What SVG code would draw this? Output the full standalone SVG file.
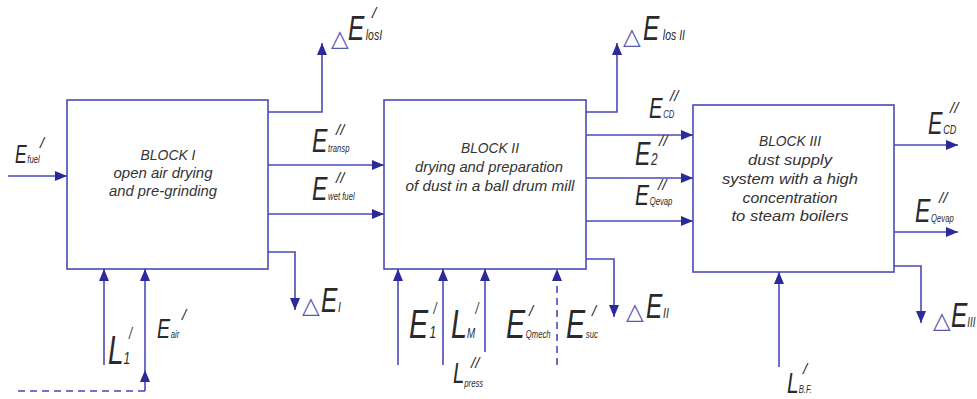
<svg xmlns="http://www.w3.org/2000/svg" width="977" height="399" viewBox="0 0 977 399">
<style>
.box{fill:#fff;stroke:#4a4ab8;stroke-width:1.6}
.ln{fill:none;stroke:#4a4ab8;stroke-width:1.6}
.dash{stroke-dasharray:7 5}
text{font-family:"Liberation Sans",sans-serif;font-style:italic;fill:#2a2a2a}
.bt{font-size:14px;text-anchor:middle;fill:#333}
.sub{font-size:11px}
.pr{font-size:15px}
.tri{font-family:"DejaVu Sans",sans-serif;font-style:normal;fill:#5a5ab0;font-size:23px}
</style>
<defs>
<marker id="ah" markerUnits="userSpaceOnUse" markerWidth="12" markerHeight="10" refX="12" refY="5" orient="auto">
<path d="M0,0 L12,5 L0,10 z" fill="#2a2a9a"/>
</marker>
</defs>

<g id="block1">
<rect class="box" x="67" y="100" width="201" height="169"/>
<text class="bt" x="168" y="160" font-size="15" textLength="55" lengthAdjust="spacingAndGlyphs">BLOCK I</text>
<text class="bt" x="163" y="178" textLength="99" lengthAdjust="spacingAndGlyphs">open air drying</text>
<text class="bt" x="163" y="196" textLength="108" lengthAdjust="spacingAndGlyphs">and pre-grinding</text>
</g>

<g id="block2">
<rect class="box" x="384" y="100" width="202" height="169"/>
<text class="bt" x="490" y="153" font-size="15" textLength="58" lengthAdjust="spacingAndGlyphs">BLOCK II</text>
<text class="bt" x="489" y="172" textLength="148" lengthAdjust="spacingAndGlyphs">drying and preparation</text>
<text class="bt" x="490" y="191" textLength="169" lengthAdjust="spacingAndGlyphs">of dust in a ball drum mill</text>
</g>

<g id="block3">
<rect class="box" x="693" y="105" width="201" height="167"/>
<text class="bt" x="790" y="146" font-size="15" textLength="62" lengthAdjust="spacingAndGlyphs">BLOCK III</text>
<text class="bt" x="790" y="165" textLength="84" lengthAdjust="spacingAndGlyphs">dust supply</text>
<text class="bt" x="790" y="184" textLength="136" lengthAdjust="spacingAndGlyphs">system with a high</text>
<text class="bt" x="790" y="203" textLength="95" lengthAdjust="spacingAndGlyphs">concentration</text>
<text class="bt" x="790" y="221" textLength="117" lengthAdjust="spacingAndGlyphs">to steam boilers</text>
</g>

<g id="connectors">
<path class="ln" d="M8,176 H67" marker-end="url(#ah)"/>
<path class="ln" d="M268,112 H322 V43" marker-end="url(#ah)"/>
<path class="ln" d="M268,165 H384" marker-end="url(#ah)"/>
<path class="ln" d="M268,214 H384" marker-end="url(#ah)"/>
<path class="ln" d="M268,252 H295 V310" marker-end="url(#ah)"/>
<path class="ln" d="M104,365 V269" marker-end="url(#ah)"/>
<path class="ln dash" d="M18,391 H145"/>
<path class="ln" d="M145,391 V370" marker-end="url(#ah)"/>
<path class="ln" d="M145,370 V269" marker-end="url(#ah)"/>

<path class="ln" d="M586,112 H617 V43" marker-end="url(#ah)"/>
<path class="ln" d="M586,135 H693" marker-end="url(#ah)"/>
<path class="ln" d="M586,178 H693" marker-end="url(#ah)"/>
<path class="ln" d="M586,221 H693" marker-end="url(#ah)"/>
<path class="ln" d="M586,259 H614 V317" marker-end="url(#ah)"/>
<path class="ln" d="M398,365 V269" marker-end="url(#ah)"/>
<path class="ln" d="M443,365 V269" marker-end="url(#ah)"/>
<path class="ln" d="M485,352 V269" marker-end="url(#ah)"/>
<path class="ln dash" d="M557,365 V269" marker-end="url(#ah)"/>

<path class="ln" d="M894,145 H958" marker-end="url(#ah)"/>
<path class="ln" d="M894,232 H958" marker-end="url(#ah)"/>
<path class="ln" d="M894,266 H921 V323" marker-end="url(#ah)"/>
<path class="ln" d="M779,367 V272" marker-end="url(#ah)"/>
</g>

<g id="labels">
<!-- E fuel -->
<text transform="translate(15,163) scale(0.7,1)" font-size="25">E<tspan class="sub" dx="1">fuel</tspan></text>
<text class="pr" x="40" y="148">/</text>
<!-- dE losI -->
<text class="tri" x="331" y="46">△</text>
<text transform="translate(348,40) scale(0.7,1)" font-size="35">E<tspan font-size="15" dx="2">losI</tspan></text>
<text class="pr" x="372" y="18">/</text>
<!-- E transp -->
<text transform="translate(312,152) scale(0.7,1)" font-size="33">E<tspan class="sub" dx="1">transp</tspan></text>
<text class="pr" x="336" y="135">//</text>
<!-- E wet fuel -->
<text transform="translate(312,200) scale(0.7,1)" font-size="33">E<tspan class="sub" dx="1">wet fuel</tspan></text>
<text class="pr" x="336" y="183">//</text>
<!-- dE I -->
<text class="tri" x="302" y="313">△</text>
<text transform="translate(321,312) scale(0.7,1)" font-size="35">E<tspan font-size="15" dx="1">I</tspan></text>
<!-- L1 -->
<text transform="translate(108,364) scale(0.7,1)" font-size="40">L<tspan font-size="17" dx="0">1</tspan><tspan font-size="16" x="30" y="-25">/</tspan></text>
<!-- E air -->
<text transform="translate(157,338) scale(0.7,1)" font-size="28">E<tspan class="sub" dx="1">air</tspan></text>
<text class="pr" x="182" y="320">/</text>

<!-- dE losII -->
<text class="tri" x="623" y="44">△</text>
<text transform="translate(643,40) scale(0.7,1)" font-size="35">E<tspan font-size="15" dx="5">los II</tspan></text>
<!-- E CD left -->
<text transform="translate(649,118) scale(0.7,1)" font-size="29">E<tspan class="sub" dx="1">CD</tspan></text>
<text class="pr" x="670" y="101">//</text>
<!-- E2 -->
<text transform="translate(635,165) scale(0.7,1)" font-size="33">E<tspan font-size="17" dx="1">2</tspan></text>
<text class="pr" x="659" y="146">//</text>
<!-- E Qevap -->
<text transform="translate(635,205) scale(0.7,1)" font-size="30">E<tspan class="sub" dx="1">Qevap</tspan></text>
<text class="pr" x="658" y="190">//</text>
<!-- dE II -->
<text class="tri" x="626" y="319">△</text>
<text transform="translate(646,318) scale(0.7,1)" font-size="35">E<tspan font-size="15" dx="1">II</tspan></text>
<!-- E1 -->
<text transform="translate(409,338) scale(0.7,1)" font-size="41">E<tspan font-size="17" dx="2">1</tspan><tspan font-size="16" x="35" y="-24">/</tspan></text>
<!-- LM -->
<text transform="translate(451,338) scale(0.7,1)" font-size="41">L<tspan font-size="14" dx="0">M</tspan><tspan font-size="16" x="35" y="-24">/</tspan></text>
<!-- L press -->
<text transform="translate(453,383) scale(0.7,1)" font-size="29">L<tspan class="sub" dx="0" dy="4">press</tspan></text>
<text class="pr" x="471" y="368">//</text>
<!-- E Qmech -->
<text transform="translate(506,338) scale(0.7,1)" font-size="41">E<tspan class="sub" dx="1">Qmech</tspan></text>
<text class="pr" x="529" y="316">/</text>
<!-- E suc -->
<text transform="translate(566,338) scale(0.7,1)" font-size="41">E<tspan class="sub" dx="1">suc</tspan></text>
<text class="pr" x="592" y="316">/</text>

<!-- E CD right -->
<text transform="translate(928,134) scale(0.7,1)" font-size="31">E<tspan font-size="13" dx="1">CD</tspan></text>
<text class="pr" x="950" y="113">//</text>
<!-- E Qevap right -->
<text transform="translate(915,222) scale(0.7,1)" font-size="33">E<tspan class="sub" dx="1">Qevap</tspan></text>
<text class="pr" x="939" y="203">//</text>
<!-- dE III -->
<text class="tri" x="933" y="328">△</text>
<text transform="translate(951,327) scale(0.7,1)" font-size="35">E<tspan font-size="14" dx="0">III</tspan></text>
<!-- L BF -->
<text transform="translate(787,393) scale(0.7,1)" font-size="30">L<tspan class="sub" dx="0">B.F.</tspan></text>
<text class="pr" x="803" y="374">/</text>
</g>
</svg>
